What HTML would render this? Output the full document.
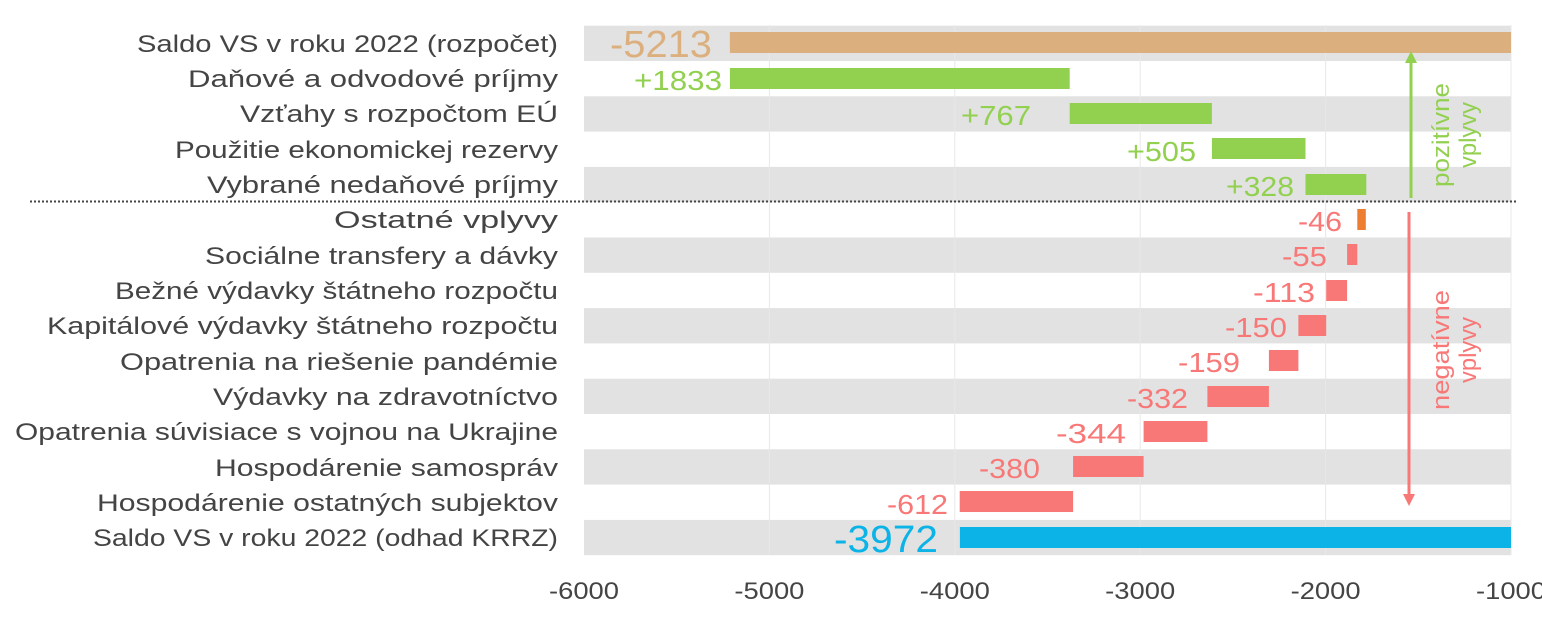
<!DOCTYPE html>
<html><head><meta charset="utf-8"><style>body{margin:0;background:#fff}svg{display:block}</style></head><body>
<svg width="1542" height="640" viewBox="0 0 1542 640" xmlns="http://www.w3.org/2000/svg" font-family="Liberation Sans, sans-serif">
<g fill="#e2e2e2">
<rect x="584" y="25.7" width="927" height="35.3"/>
<rect x="584" y="96.3" width="927" height="35.3"/>
<rect x="584" y="166.9" width="927" height="35.3"/>
<rect x="584" y="237.5" width="927" height="35.3"/>
<rect x="584" y="308.1" width="927" height="35.3"/>
<rect x="584" y="378.7" width="927" height="35.3"/>
<rect x="584" y="449.3" width="927" height="35.3"/>
<rect x="584" y="519.9" width="927" height="35.3"/>
</g>
<g stroke="#e8e8e8" stroke-width="1">
<line x1="769.4" y1="25" x2="769.4" y2="555"/><line x1="954.8" y1="25" x2="954.8" y2="555"/>
<line x1="1140.2" y1="25" x2="1140.2" y2="555"/><line x1="1325.6" y1="25" x2="1325.6" y2="555"/>
<line x1="1511" y1="25" x2="1511" y2="555"/>
</g>
<line x1="30" y1="201.5" x2="1518" y2="201.5" stroke="#444" stroke-width="2" stroke-dasharray="2,2"/>
<g>
<rect x="729.9" y="32" width="781.1" height="21" fill="#dcb07e"/>
<rect x="729.9" y="68" width="339.8" height="21" fill="#92d050"/>
<rect x="1069.7" y="103" width="142.2" height="21" fill="#92d050"/>
<rect x="1211.9" y="138" width="93.6" height="21" fill="#92d050"/>
<rect x="1305.5" y="174" width="60.8" height="21" fill="#92d050"/>
<rect x="1357.3" y="209" width="8.5" height="21" fill="#ed7d31"/>
<rect x="1347.1" y="244" width="10.2" height="21" fill="#f87878"/>
<rect x="1326.2" y="280" width="20.9" height="21" fill="#f87878"/>
<rect x="1298.4" y="315" width="27.8" height="21" fill="#f87878"/>
<rect x="1268.9" y="350" width="29.5" height="21" fill="#f87878"/>
<rect x="1207.4" y="386" width="61.5" height="21" fill="#f87878"/>
<rect x="1143.6" y="421" width="63.8" height="21" fill="#f87878"/>
<rect x="1073.1" y="456" width="70.5" height="21" fill="#f87878"/>
<rect x="959.7" y="491" width="113.4" height="21" fill="#f87878"/>
<rect x="959.9" y="527" width="551.1" height="21" fill="#0cb3e6"/>
</g>
<g font-size="24" fill="#444" text-anchor="end">
<text x="558" y="52" textLength="421" lengthAdjust="spacingAndGlyphs">Saldo VS v roku 2022 (rozpočet)</text>
<text x="558" y="87" textLength="370" lengthAdjust="spacingAndGlyphs">Daňové a odvodové príjmy</text>
<text x="558" y="122" textLength="318" lengthAdjust="spacingAndGlyphs">Vzťahy s rozpočtom EÚ</text>
<text x="558" y="158" textLength="383" lengthAdjust="spacingAndGlyphs">Použitie ekonomickej rezervy</text>
<text x="558" y="193" textLength="351" lengthAdjust="spacingAndGlyphs">Vybrané nedaňové príjmy</text>
<text x="558" y="228" textLength="224" lengthAdjust="spacingAndGlyphs">Ostatné vplyvy</text>
<text x="558" y="264" textLength="353" lengthAdjust="spacingAndGlyphs">Sociálne transfery a dávky</text>
<text x="558" y="299" textLength="443" lengthAdjust="spacingAndGlyphs">Bežné výdavky štátneho rozpočtu</text>
<text x="558" y="334" textLength="511" lengthAdjust="spacingAndGlyphs">Kapitálové výdavky štátneho rozpočtu</text>
<text x="558" y="370" textLength="438" lengthAdjust="spacingAndGlyphs">Opatrenia na riešenie pandémie</text>
<text x="558" y="405" textLength="345" lengthAdjust="spacingAndGlyphs">Výdavky na zdravotníctvo</text>
<text x="558" y="440" textLength="543" lengthAdjust="spacingAndGlyphs">Opatrenia súvisiace s vojnou na Ukrajine</text>
<text x="558" y="476" textLength="343" lengthAdjust="spacingAndGlyphs">Hospodárenie samospráv</text>
<text x="558" y="511" textLength="461" lengthAdjust="spacingAndGlyphs">Hospodárenie ostatných subjektov</text>
<text x="558" y="546" textLength="465" lengthAdjust="spacingAndGlyphs">Saldo VS v roku 2022 (odhad KRRZ)</text>
</g>
<g text-anchor="end" font-size="28">
<text x="712" y="57" font-size="38" fill="#dcb07e" textLength="102" lengthAdjust="spacingAndGlyphs">-5213</text>
<text x="722" y="90" fill="#92d050" textLength="88" lengthAdjust="spacingAndGlyphs">+1833</text>
<text x="1031" y="125" fill="#92d050" textLength="70" lengthAdjust="spacingAndGlyphs">+767</text>
<text x="1196" y="161" fill="#92d050" textLength="69" lengthAdjust="spacingAndGlyphs">+505</text>
<text x="1294" y="196" fill="#92d050" textLength="68" lengthAdjust="spacingAndGlyphs">+328</text>
<text x="1342" y="231" fill="#f87878" textLength="44" lengthAdjust="spacingAndGlyphs">-46</text>
<text x="1327" y="266" fill="#f87878" textLength="45" lengthAdjust="spacingAndGlyphs">-55</text>
<text x="1315" y="302" fill="#f87878" textLength="62" lengthAdjust="spacingAndGlyphs">-113</text>
<text x="1287" y="337" fill="#f87878" textLength="62" lengthAdjust="spacingAndGlyphs">-150</text>
<text x="1240" y="372" fill="#f87878" textLength="62" lengthAdjust="spacingAndGlyphs">-159</text>
<text x="1188" y="408" fill="#f87878" textLength="61" lengthAdjust="spacingAndGlyphs">-332</text>
<text x="1126" y="443" fill="#f87878" textLength="70" lengthAdjust="spacingAndGlyphs">-344</text>
<text x="1040" y="478" fill="#f87878" textLength="61" lengthAdjust="spacingAndGlyphs">-380</text>
<text x="948" y="514" fill="#f87878" textLength="61" lengthAdjust="spacingAndGlyphs">-612</text>
<text x="938" y="552" font-size="38" fill="#0cb3e6" textLength="104" lengthAdjust="spacingAndGlyphs">-3972</text>
</g>
<g font-size="24" fill="#444" text-anchor="middle">
<text x="584" y="599" textLength="70" lengthAdjust="spacingAndGlyphs">-6000</text><text x="769.4" y="599" textLength="70" lengthAdjust="spacingAndGlyphs">-5000</text><text x="954.8" y="599" textLength="70" lengthAdjust="spacingAndGlyphs">-4000</text>
<text x="1140.2" y="599" textLength="70" lengthAdjust="spacingAndGlyphs">-3000</text><text x="1325.6" y="599" textLength="70" lengthAdjust="spacingAndGlyphs">-2000</text><text x="1511" y="599" textLength="70" lengthAdjust="spacingAndGlyphs">-1000</text>
</g>
<line x1="1411" y1="198" x2="1411" y2="60" stroke="#92d050" stroke-width="3"/>
<polygon points="1411,51 1405,63 1417,63" fill="#92d050"/>
<line x1="1409" y1="212" x2="1409" y2="496" stroke="#f87878" stroke-width="3"/>
<polygon points="1409,506 1403,494 1415,494" fill="#f87878"/>
<g font-size="24" fill="#92d050" text-anchor="middle">
<text transform="translate(1449,135) rotate(-90)" textLength="104" lengthAdjust="spacingAndGlyphs">pozitívne</text>
<text transform="translate(1476,135) rotate(-90)" textLength="66" lengthAdjust="spacingAndGlyphs">vplyvy</text>
</g>
<g font-size="24" fill="#f87878" text-anchor="middle">
<text transform="translate(1449,350) rotate(-90)" textLength="120" lengthAdjust="spacingAndGlyphs">negatívne</text>
<text transform="translate(1476,350) rotate(-90)" textLength="66" lengthAdjust="spacingAndGlyphs">vplyvy</text>
</g>
</svg>
</body></html>
